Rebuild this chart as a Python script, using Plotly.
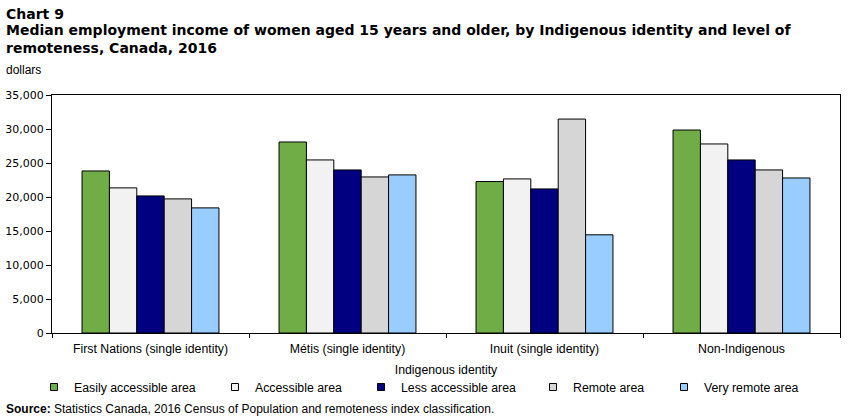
import plotly.graph_objects as go

categories = ["First Nations (single identity)", "Métis (single identity)",
              "Inuit (single identity)", "Non-Indigenous"]
series_names = ["Easily accessible area", "Accessible area", "Less accessible area",
                "Remote area", "Very remote area"]
easily = [23830, 28090, 22270, 29850]
accessible = [21340, 25450, 22660, 27800]
less_accessible = [20160, 23980, 21190, 25450]
remote = [19720, 22950, 31460, 23980]
very_remote = [18400, 23250, 14440, 22800]
colors = ["#70AD47", "#F2F2F2", "#000080", "#D6D6D6", "#99CCFF"]
y_ticks = [0, 5000, 10000, 15000, 20000, 25000, 30000, 35000]

values = [easily, accessible, less_accessible, remote, very_remote]

# plot area geometry (pixels)
W, H = 852, 417
L, R, T, B = 52, 12, 95, 84
PW, PH = W - L - R, H - T - B
def px(x):
    return (x - L) / PW
def py(y):
    return (H - B - y) / PH

body_font = "Liberation Sans, Arial, sans-serif"
title_font = "DejaVu Sans, Verdana, sans-serif"
legend_text_x = [74, 255, 401, 573, 704]

fig = go.Figure()
legend_layouts = {}
for i, (name, vals, col) in enumerate(zip(series_names, values, colors)):
    lname = f"legend{6 - i}"
    fig.add_trace(go.Bar(x=categories, y=vals, name=name, showlegend=False,
                         marker=dict(color=col, line=dict(color="black", width=1))))
    # legend key: small square like the reference
    fig.add_trace(go.Scatter(x=[None], y=[None], mode="markers", name=name,
                             legend=lname, showlegend=True,
                             marker=dict(symbol="square", size=7, color=col,
                                         line=dict(color="black", width=1))))
    legend_layouts[lname] = dict(
        orientation="h", x=px(legend_text_x[i] - 40), xanchor="left",
        y=py(387), yanchor="middle", font=dict(size=12.3, family=body_font),
        itemwidth=30, bgcolor="rgba(0,0,0,0)", borderwidth=0)

fig.update_layout(
    width=W, height=H,
    margin=dict(l=L, r=R, t=T, b=B, autoexpand=False),
    paper_bgcolor="white", plot_bgcolor="white",
    barmode="group", bargap=0.305, bargroupgap=0,
    font=dict(family=body_font, size=12.3, color="black"),
    showlegend=True,
    xaxis=dict(showline=True, linecolor="black", linewidth=1, mirror=True,
               ticks="outside", tickson="boundaries", ticklen=4, tickcolor="black",
               ticklabelstandoff=4,
               title=dict(text="Indigenous identity", standoff=10, font=dict(size=12.3)),
               tickfont=dict(size=12.3)),
    yaxis=dict(range=[0, 35000], tickvals=y_ticks, tickformat=",",
               showline=True, linecolor="black", linewidth=1, mirror=True,
               ticks="outside", ticklen=5, tickcolor="black", showgrid=False,
               zeroline=False,
               tickfont=dict(family=title_font, size=11)),
    annotations=[
        dict(text="<b>Chart 9</b>", xref="paper", yref="paper", x=px(4), y=py(14),
             xanchor="left", yanchor="middle", showarrow=False, align="left",
             font=dict(family=title_font, size=14)),
        dict(text="<b>Median employment income of women aged 15 years and older, by Indigenous identity and level of<br>remoteness, Canada, 2016</b>",
             xref="paper", yref="paper", x=px(4), y=py(39.5),
             xanchor="left", yanchor="middle", showarrow=False, align="left",
             font=dict(family=title_font, size=14)),
        dict(text="dollars", xref="paper", yref="paper", x=px(4), y=py(70),
             xanchor="left", yanchor="middle", showarrow=False, align="left",
             font=dict(size=12)),
        dict(text="<b>Source:</b> Statistics Canada, 2016 Census of Population and remoteness index classification.",
             xref="paper", yref="paper", x=px(4), y=py(409),
             xanchor="left", yanchor="middle", showarrow=False, align="left",
             font=dict(size=12)),
    ],
    **legend_layouts,
)

fig.write_html("out.html")
